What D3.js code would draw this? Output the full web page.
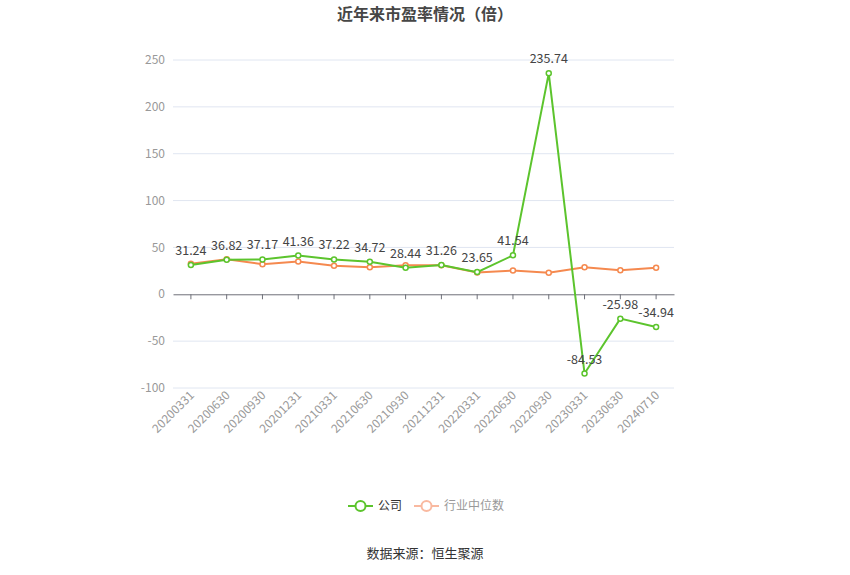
<!DOCTYPE html>
<html>
<head>
<meta charset="utf-8">
<script src="https://cdn.jsdelivr.net/npm/d3@7/dist/d3.min.js"></script>
<style>
  body { margin: 0; background: #fff; }
  text { font-family: "Noto Sans CJK SC", "Noto Sans", sans-serif; }
</style>
</head>
<body>
<svg width="850" height="575"></svg>
<script>
var svg = d3.select('svg');

// data
var dates = ["20200331", "20200630", "20200930", "20201231", "20210331", "20210630", "20210930",
             "20211231", "20220331", "20220630", "20220930", "20230331", "20230630", "20240710"];
var company = [31.24, 36.82, 37.17, 41.36, 37.22, 34.72, 28.44, 31.26, 23.65, 41.54, 235.74, -84.53, -25.98, -34.94];
var industry = [32.5, 37.5, 32.1, 35.0, 30.4, 28.9, 31.0, 31.0, 23.2, 25.4, 22.9, 28.9, 25.7, 28.2];
var yTicks = [-100, -50, 0, 50, 100, 150, 200, 250];

var green = "#5cc42d";
var orange = "#f5894f";

var x = d3.scaleBand().domain(dates).range([173, 674]);
var y = d3.scaleLinear().domain([-100, 250]).range([388, 60]);
function cx(d, i) { return x(dates[i]) + x.bandwidth() / 2; }

// title
svg.append("text")
    .attr("x", 425).attr("y", 20)
    .attr("text-anchor", "middle")
    .attr("font-size", 16).attr("font-weight", "bold")
    .attr("fill", "#464646")
    .text("近年来市盈率情况（倍）");

// grid
svg.selectAll(".grid")
    .data(yTicks.filter(function (d) { return d !== 0; }))
    .enter()
    .append("line")
    .attr("x1", 173).attr("x2", 674)
    .attr("y1", function (d) { return y(d); })
    .attr("y2", function (d) { return y(d); })
    .attr("stroke", "#e0e6f1");

// y labels
svg.selectAll(".ylab")
    .data(yTicks)
    .enter()
    .append("text")
    .attr("x", 165)
    .attr("y", function (d) { return y(d); })
    .attr("dy", "0.35em")
    .attr("text-anchor", "end")
    .attr("font-size", 12)
    .attr("fill", "#999")
    .text(function (d) { return d; });

// x axis at zero
var xAxis = d3.axisBottom(x).tickSize(5).tickSizeOuter(0).tickFormat("");
var gx = svg.append("g")
    .attr("transform", "translate(0," + y(0) + ")")
    .call(xAxis);
gx.select(".domain").attr("stroke", "#6e7079");
gx.selectAll(".tick line").attr("stroke", "#6e7079");

// rotated x labels
svg.selectAll(".xlab")
    .data(dates)
    .enter()
    .append("text")
    .attr("transform", function (d, i) {
        return "translate(" + (cx(d, i) + 4) + ",396) rotate(-45)";
    })
    .attr("text-anchor", "end")
    .attr("font-size", 12)
    .attr("fill", "#999")
    .text(function (d) { return d; });

var line = d3.line()
    .x(function (d, i) { return cx(d, i); })
    .y(function (d) { return y(d); });

function series(vals, color) {
    svg.append("path")
        .datum(vals)
        .attr("d", line)
        .attr("fill", "none")
        .attr("stroke", color)
        .attr("stroke-width", 2);
    svg.append("g").selectAll("circle")
        .data(vals)
        .enter()
        .append("circle")
        .attr("cx", cx)
        .attr("cy", function (d) { return y(d); })
        .attr("r", 2.5)
        .attr("fill", "#fff")
        .attr("stroke", color)
        .attr("stroke-width", 1.5);
}

series(industry, orange);
series(company, green);

// value labels on company line
svg.selectAll(".vlab")
    .data(company)
    .enter()
    .append("text")
    .attr("x", cx)
    .attr("y", function (d) { return y(d) - 10; })
    .attr("text-anchor", "middle")
    .attr("font-size", 12.5)
    .attr("fill", "#444")
    .text(function (d) { return d.toFixed(2); });

// legend
var legend = [
    { name: "公司", color: green, text: "#333" },
    { name: "行业中位数", color: "#f9b9a0", text: "#999" }
];
var lg = svg.selectAll(".lg")
    .data(legend)
    .enter()
    .append("g")
    .attr("transform", function (d, i) { return "translate(" + (348 + i * 66) + ",506)"; });
lg.append("line")
    .attr("x1", 0).attr("x2", 25)
    .attr("stroke", function (d) { return d.color; })
    .attr("stroke-width", 2);
lg.append("circle")
    .attr("cx", 12.5).attr("r", 5)
    .attr("fill", "#fff")
    .attr("stroke", function (d) { return d.color; })
    .attr("stroke-width", 2);
lg.append("text")
    .attr("x", 30).attr("dy", "0.35em")
    .attr("font-size", 12)
    .attr("fill", function (d) { return d.text; })
    .text(function (d) { return d.name; });

// source
svg.append("text")
    .attr("x", 425).attr("y", 558)
    .attr("text-anchor", "middle")
    .attr("font-size", 13)
    .attr("fill", "#333")
    .text("数据来源：恒生聚源");
</script>
</body>
</html>
